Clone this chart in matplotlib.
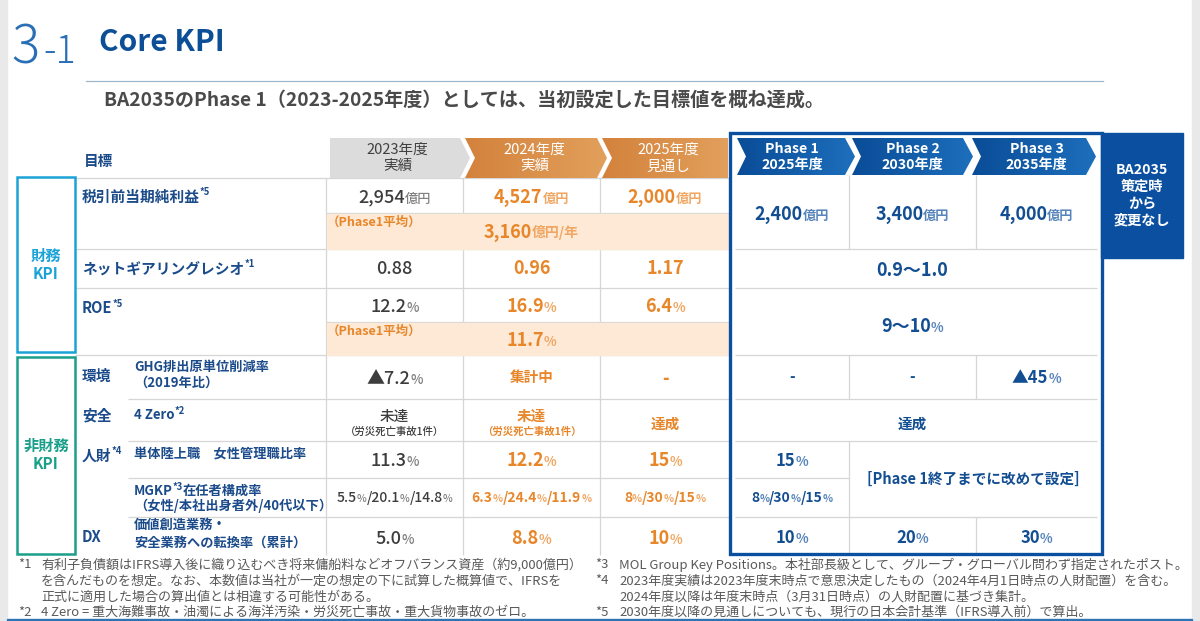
import re
import numpy as np
import matplotlib.pyplot as plt
from matplotlib.patches import Polygon, Rectangle
from matplotlib.colors import LinearSegmentedColormap

plt.rcParams['font.family'] = ['Noto Sans CJK JP', 'DejaVu Sans']

# ---- text / values ----
title_num = '3'
title_sub = '-1'
title = 'Core KPI'
subtitle = 'BA2035のPhase 1（2023-2025年度）としては、当初設定した目標値を概ね達成。'

year_headers = ['2023年度\n実績', '2024年度\n実績', '2025年度\n見通し']
phase_headers = ['Phase 1\n2025年度', 'Phase 2\n2030年度', 'Phase 3\n2035年度']
unchanged_note = 'BA2035\n策定時\nから\n変更なし'

pretax_actual = ['2,954億円', '4,527億円', '2,000億円']
pretax_avg = '3,160億円/年'
pretax_target = ['2,400億円', '3,400億円', '4,000億円']
gearing_actual = ['0.88', '0.96', '1.17']
gearing_target = '0.9〜1.0'
roe_actual = ['12.2%', '16.9%', '6.4%']
roe_avg = '11.7%'
roe_target = '9〜10%'
ghg_actual = ['▲7.2%', '集計中', '-']
ghg_target = ['-', '-', '▲45%']
safety_actual = ['未達', '未達', '達成']
safety_detail = ['（労災死亡事故1件）', '（労災死亡事故1件）', '']
safety_target = '達成'
women_actual = ['11.3%', '12.2%', '15%']
women_target = '15%'
mgkp_actual = ['5.5%/20.1%/14.8%', '6.3%/24.4%/11.9%', '8%/30%/15%']
mgkp_target = '8%/30%/15%'
later_target = '[Phase 1終了までに改めて設定]'
dx_actual = ['5.0%', '8.8%', '10%']
dx_target = ['10%', '20%', '30%']

avg_label = '（Phase1平均）'

footnotes_left = [
    ('*1', '有利子負債額はIFRS導入後に織り込むべき将来傭船料などオフバランス資産（約9,000億円）'),
    ('', 'を含んだものを想定。なお、本数値は当社が一定の想定の下に試算した概算値で、IFRSを'),
    ('', '正式に適用した場合の算出値とは相違する可能性がある。'),
    ('*2', '4 Zero = 重大海難事故・油濁による海洋汚染・労災死亡事故・重大貨物事故のゼロ。'),
]
footnotes_right = [
    ('*3', 'MOL Group Key Positions。本社部長級として、グループ・グローバル問わず指定されたポスト。'),
    ('*4', '2023年度実績は2023年度末時点で意思決定したもの（2024年4月1日時点の人財配置）を含む。'),
    ('', '2024年度以降は年度末時点（3月31日時点）の人財配置に基づき集計。'),
    ('*5', '2030年度以降の見通しについても、現行の日本会計基準（IFRS導入前）で算出。'),
]

# ---- colours ----
LBL = '#1b4b8a'
GRAY, GRAY_U = '#3d3d3d', '#808080'
ORANGE, ORANGE_U = '#e8862a', '#f0a764'
BLUE, BLUE_U = '#124e91', '#5784bb'
FRAME = '#0b50a0'
GRID = '#d6d6d6'
BAND = '#fde9d5'

PX = 100 / 72

fig = plt.figure(figsize=(12, 6.21), dpi=100)
ax = fig.add_axes([0, 0, 1, 1])
ax.axis('off')
renderer = fig.canvas.get_renderer()


def rich(x, y, parts, ha='center', z=6):
    """draw several text pieces side by side on one baseline"""
    texts, widths = [], []
    main = max(p[1] for p in parts)
    base = y + 0.36 * main * PX
    for s, size, color, weight, dy in parts:
        t = ax.text(0, base + dy, s, fontsize=size, color=color,
                    fontweight=weight, va='baseline', ha='left', zorder=z)
        texts.append(t)
        widths.append(t.get_window_extent(renderer).width)
    cur = x - sum(widths) / 2 if ha == 'center' else x
    for t, w in zip(texts, widths):
        t.set_x(cur)
        cur += w


def val(x, y, s, style, size=13, usize=9.5):
    color, ucolor, weight = style
    parts = []
    for tok in re.split(r'(億円/年|億円|%)', s):
        if not tok:
            continue
        if tok in ('億円/年', '億円', '%'):
            parts.append((tok, usize, ucolor, weight, 0))
        else:
            parts.append((tok, size, color, weight, 0))
    rich(x, y, parts)


def grad_poly(pts, c0, c1, z=2):
    poly = Polygon(pts, closed=True, facecolor='none', edgecolor='none')
    ax.add_patch(poly)
    xs = [p[0] for p in pts]
    ys = [p[1] for p in pts]
    cmap = LinearSegmentedColormap.from_list('g', [c0, c1])
    im = ax.imshow(np.linspace(0, 1, 256)[None, :], cmap=cmap, aspect='auto',
                   extent=(min(xs), max(xs), max(ys), min(ys)), zorder=z)
    im.set_clip_path(poly)


def chevron(L, R, top, bot, notch, tip):
    mid = (top + bot) / 2
    pts = [(L, top), (R, top)]
    pts += [(R + tip, mid)] if tip else []
    pts += [(R, bot), (L, bot)]
    pts += [(L + notch, mid)] if notch else []
    return pts


# ---- background bits ----
ax.add_patch(Rectangle((0, 0), 7, 621, color='#e9e9e9', zorder=0))
ax.add_patch(Rectangle((1192, 0), 8, 621, color='#e9e9e9', zorder=0))
ax.add_patch(Rectangle((7, 618.5), 1185, 2.5, color='#2e74b5', zorder=0))

# ---- title ----
ax.text(11, 63, title_num, fontsize=38, color='#2a6fb5', fontweight='light', va='baseline')
ax.text(43, 63, title_sub, fontsize=27, color='#2a6fb5', fontweight='light', va='baseline')
ax.text(99, 51, title, fontsize=21.5, color='#0d4f97', fontweight='bold', va='baseline')
ax.plot([86, 1103], [81, 81], color='#9bb8cf', lw=0.9)
ax.text(104, 100, subtitle, fontsize=13.8, color='#4a4a4a', fontweight='bold', va='center')

# ---- column layout ----
col_b = [326, 463, 600, 730]
col_c = [(col_b[i] + col_b[i + 1]) / 2 for i in range(3)]
ph_b = [735, 849, 976, 1097]
ph_c = [(ph_b[i] + ph_b[i + 1]) / 2 for i in range(3)]

# year header chevrons
for i, h in enumerate(year_headers):
    L = col_b[i] + (2 if i else 4)
    R = col_b[i + 1] - 3 if i < 2 else 728
    pts = chevron(L, R, 138, 178, 10 if i else 0, 10 if i < 2 else 0)
    if i == 0:
        ax.add_patch(Polygon(pts, closed=True, facecolor='#dcdcdc', edgecolor='none', zorder=2))
        tc = '#404040'
    else:
        grad_poly(pts, '#d3823c', '#e2a05c')
        tc = 'white'
    ax.text(col_c[i] + 3, 158, h, fontsize=10.5, color=tc, ha='center', va='center',
            linespacing=1.25, zorder=4)

# phase header chevrons
ph_L = [737, 852, 972]
ph_R = [845, 963, 1086]
for i, h in enumerate(phase_headers):
    pts = chevron(ph_L[i], ph_R[i], 138, 175, 9, 10)
    grad_poly(pts, '#0a4c97', '#1d6fbc')
    ax.text(ph_c[i], 157, h, fontsize=10.2, color='white', fontweight='bold',
            ha='center', va='center', linespacing=1.2, zorder=4)

# ---- grid ----
lw = 0.9
ax.hlines([178, 249, 288, 355], 75, 326, color=GRID, lw=lw, zorder=1)
ax.hlines([399, 441, 478, 517], 128, 326, color=GRID, lw=lw, zorder=1)
ax.hlines([178, 213, 249, 288, 322, 355, 399, 441, 478, 517], 326, 730, color=GRID, lw=lw, zorder=1)
ax.vlines(326, 178, 555, color=GRID, lw=lw, zorder=1)
for xv in col_b[1:3]:
    for y0, y1 in [(178, 213), (249, 322), (355, 555)]:
        ax.vlines(xv, y0, y1, color=GRID, lw=lw, zorder=1)
ax.hlines([249, 288, 355, 399, 441, 517], 735, 1097, color=GRID, lw=lw, zorder=1)
ax.hlines(478, 735, 849, color=GRID, lw=lw, zorder=1)
for y0, y1 in [(175, 249), (355, 399), (441, 555)]:
    ax.vlines(849, y0, y1, color=GRID, lw=lw, zorder=1)
for y0, y1 in [(175, 249), (355, 399), (517, 555)]:
    ax.vlines(976, y0, y1, color=GRID, lw=lw, zorder=1)

# Phase1 average bands
for y0, y1 in [(213, 249), (322, 355)]:
    ax.add_patch(Rectangle((326.5, y0 + 0.5), 403, y1 - y0 - 1, color=BAND, zorder=1.5))

# frame + unchanged box
ax.add_patch(Rectangle((730, 133), 372, 421, fill=False, edgecolor=FRAME, lw=2.4, zorder=5))
ax.add_patch(Rectangle((1101, 133), 82, 125, color=FRAME, zorder=5))
ax.text(1142, 195, unchanged_note, fontsize=10.2, color='white', fontweight='bold',
        ha='center', va='center', linespacing=1.25, zorder=6)

# ---- left labels ----
ax.add_patch(Rectangle((17, 177), 58, 175, fill=False, edgecolor='#1ba3d6', lw=1.8, zorder=3))
ax.text(46, 265, '財務\nKPI', fontsize=11, color='#1ba3d6', fontweight='bold',
        ha='center', va='center', linespacing=1.2)
ax.add_patch(Rectangle((17, 357), 58, 197, fill=False, edgecolor='#1a9f8a', lw=1.8, zorder=3))
ax.text(46, 455, '非財務\nKPI', fontsize=11, color='#1a9f8a', fontweight='bold',
        ha='center', va='center', linespacing=1.2)

ax.text(84, 161, '目標', fontsize=10.5, color=LBL, fontweight='bold', va='center')
SUP = 6.8
rich(82, 196, [('税引前当期純利益', 10.6, LBL, 'bold', 0), ('*5', SUP, LBL, 'bold', -6)], ha='left')
rich(82, 268, [('ネットギアリングレシオ', 10.6, LBL, 'bold', 0), ('*1', SUP, LBL, 'bold', -6)], ha='left')
rich(82, 308, [('ROE', 10.6, LBL, 'bold', 0), ('*5', SUP, LBL, 'bold', -6)], ha='left')
ax.text(82, 376, '環境', fontsize=10.6, color=LBL, fontweight='bold', va='center')
ax.text(82, 415, '安全', fontsize=10.6, color=LBL, fontweight='bold', va='center')
rich(82, 455, [('人財', 10.6, LBL, 'bold', 0), ('*4', SUP, LBL, 'bold', -6)], ha='left')
ax.text(82, 537, 'DX', fontsize=10.6, color=LBL, fontweight='bold', va='center')

SUB = 9.5
ax.text(134, 367, 'GHG排出原単位削減率', fontsize=SUB, color=LBL, fontweight='bold', va='center')
ax.text(134, 383, '（2019年比）', fontsize=SUB, color=LBL, fontweight='bold', va='center')
rich(134, 414, [('4 Zero', SUB, LBL, 'bold', 0), ('*2', SUP, LBL, 'bold', -5)], ha='left')
ax.text(134, 455, '単体陸上職　女性管理職比率', fontsize=SUB, color=LBL, fontweight='bold', va='center')
rich(134, 490, [('MGKP', SUB, LBL, 'bold', 0), ('*3', SUP, LBL, 'bold', -5),
                ('在任者構成率', SUB, LBL, 'bold', 0)], ha='left')
ax.text(134, 506, '（女性/本社出身者外/40代以下）', fontsize=SUB, color=LBL, fontweight='bold', va='center')
ax.text(134, 525, '価値創造業務・', fontsize=SUB, color=LBL, fontweight='bold', va='center')
ax.text(134, 543, '安全業務への転換率（累計）', fontsize=SUB, color=LBL, fontweight='bold', va='center')

# ---- actual / forecast values ----
styles = [(GRAY, GRAY_U, 'medium'), (ORANGE, ORANGE_U, 'bold'), (ORANGE, ORANGE_U, 'bold')]
phase_style = (BLUE, BLUE_U, 'bold')

for i in range(3):
    st = styles[i]
    val(col_c[i], 196, pretax_actual[i], st)
    val(col_c[i], 268, gearing_actual[i], st)
    val(col_c[i], 306, roe_actual[i], st)
    if ghg_actual[i].startswith('▲') or ghg_actual[i] == '-':
        val(col_c[i], 377, ghg_actual[i], st)
    else:
        val(col_c[i], 377, ghg_actual[i], st, size=10.5)
    if safety_detail[i]:
        val(col_c[i], 416, safety_actual[i], st, size=10.5)
        ax.text(col_c[i], 432, safety_detail[i], fontsize=7.5, color=st[0],
                fontweight=st[2], ha='center', va='center')
    else:
        val(col_c[i], 423, safety_actual[i], st, size=10.5)
    val(col_c[i], 460, women_actual[i], st)
    val(col_c[i], 497, mgkp_actual[i], st, size=10, usize=7.5)
    val(col_c[i], 537, dx_actual[i], st)

# Phase1 averages
for y_lab, y_val, s in [(222, 231, pretax_avg), (331, 339, roe_avg)]:
    ax.text(327, y_lab, avg_label, fontsize=9, color=ORANGE, fontweight='bold', va='center', zorder=4)
    val(col_c[1], y_val, s, styles[1], usize=10 if '年' in s else 9.5)

# ---- targets ----
for i in range(3):
    val(ph_c[i], 213, pretax_target[i], phase_style)
    val(ph_c[i], 377, ghg_target[i], phase_style, size=12 if ghg_target[i] != '-' else 11)
    val(ph_c[i], 537, dx_target[i], phase_style, size=12)
val(ph_c[1], 269, gearing_target, phase_style)
val(ph_c[1], 325, roe_target, phase_style)
val(ph_c[1], 423, safety_target, phase_style, size=10.5)
val(ph_c[0], 460, women_target, phase_style, size=12)
val(ph_c[0], 497, mgkp_target, phase_style, size=10, usize=7.5)
ax.text((ph_b[1] + ph_b[3]) / 2, 479, later_target, fontsize=10.5, color=BLUE,
        fontweight='bold', ha='center', va='center', zorder=6)

# ---- footnotes ----
FN = 9.4
fn_y = [565, 581, 597, 612]
for (mark, s), y in zip(footnotes_left, fn_y):
    ax.text(18, y, mark, fontsize=FN, color='#595959', va='center')
    ax.text(41, y, s, fontsize=FN, color='#595959', va='center')
for (mark, s), y in zip(footnotes_right, fn_y):
    ax.text(595, y, mark, fontsize=FN, color='#595959', va='center')
    ax.text(619, y, s, fontsize=FN, color='#595959', va='center')

ax.set_xlim(0, 1200)
ax.set_ylim(621, 0)
fig.savefig('out.png', dpi=100)
